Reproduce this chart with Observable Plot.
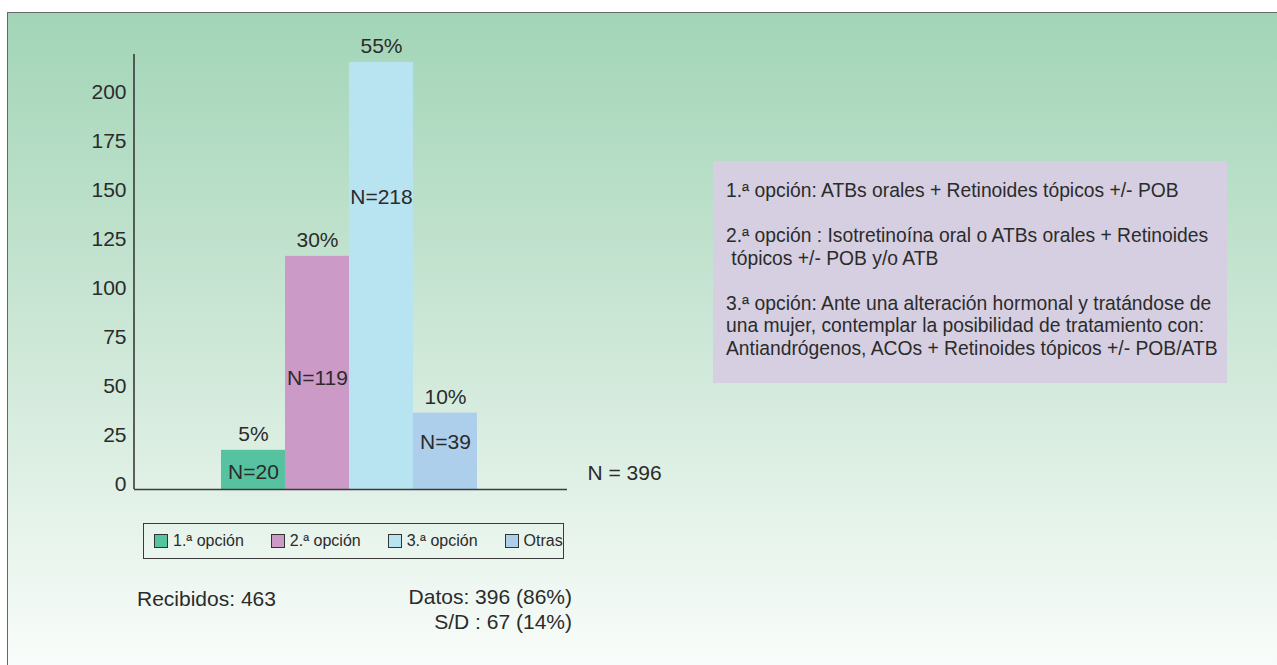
<!DOCTYPE html>
<html>
<head>
<meta charset="utf-8">
<script src="https://cdn.jsdelivr.net/npm/d3@7"></script>
<script src="https://cdn.jsdelivr.net/npm/@observablehq/plot@0.6"></script>
<style>
  html, body { margin: 0; padding: 0; background: #ffffff; width: 1277px; height: 665px; overflow: hidden; }
  body { position: relative; font-family: "Liberation Sans", Arial, Helvetica, sans-serif; color: #2b2b2b; }
  #panel {
    position: absolute; left: 7px; top: 12px; width: 1280px; height: 660px;
    border-left: 1.5px solid #666; border-top: 1.5px solid #666;
    background: linear-gradient(to bottom, #a2d5b7 0%, #cfe8d8 52%, #fafdfb 100%);
  }
  #chart { position: absolute; left: 0; top: 0; }
  #legend {
    position: absolute; left: 143px; top: 523px; width: 409px; height: 34px;
    border: 1.5px solid #3a3a3a; display: flex; align-items: center;
    padding-left: 10px; box-sizing: content-box; font-size: 16px;
  }
  #legend .item { display: flex; align-items: center; margin-right: 27px; }
  #legend .sw { width: 12px; height: 12px; border: 1px solid #333; margin-right: 5px; }
  #infobox {
    position: absolute; left: 713px; top: 161px; width: 514px; height: 222px;
    background: #d6cfe1; box-sizing: border-box; padding: 19px 0 0 13px;
    font-size: 19.3px; line-height: 22.5px; white-space: pre;
  }
  #infobox p { margin: 0 0 22.5px 0; }
  .foot { position: absolute; font-size: 21px; line-height: 25px; }
</style>
</head>
<body>
<div id="panel"></div>
<div id="chart"></div>
<div id="legend"></div>
<div id="infobox"></div>
<div class="foot" id="recib" style="left:137px; top:586px;"></div>
<div class="foot" id="datos" style="right:705px; top:584px; text-align:right;"></div>
<script>
// ---- data ----
const categories = ["1.ª opción", "2.ª opción", "3.ª opción", "Otras"];
const counts = [20, 119, 218, 39];
const percents = ["5%", "30%", "55%", "10%"];
const countLabelAt = [9, 57, 149, 24];   // where the N= labels sit, in data units
const colors = ["#57c2a0", "#cc9ac7", "#b8e3f1", "#aecfec"];
const yTicks = [0, 25, 50, 75, 100, 125, 150, 175, 200];
const totalLabel = "N = 396";
const infoParagraphs = [
  "1.ª opción: ATBs orales + Retinoides tópicos +/- POB",
  "2.ª opción : Isotretinoína oral o ATBs orales + Retinoides\n tópicos +/- POB y/o ATB",
  "3.ª opción: Ante una alteración hormonal y tratándose de\nuna mujer, contemplar la posibilidad de tratamiento con:\nAntiandrógenos, ACOs + Retinoides tópicos +/- POB/ATB"
];
const receivedText = "Recibidos: 463";
const datosLines = ["Datos: 396 (86%)", "S/D : 67 (14%)"];

const rows = categories.map((c, i) => ({cat: c, n: counts[i], pct: percents[i], at: countLabelAt[i]}));

const svg = Plot.plot({
  width: 700,
  height: 520,
  marginLeft: 134,
  marginRight: 133,
  marginTop: 54,
  marginBottom: 31,
  style: {background: "transparent", fontFamily: "'Liberation Sans', Arial, sans-serif", fontSize: "21px", color: "#2b2b2b", overflow: "visible"},
  x: {type: "band", domain: categories, paddingInner: 0, paddingOuter: 1.357, align: 0.49, axis: null},
  y: {domain: [0, 222]},
  color: {domain: categories, range: colors},
  marks: [
    Plot.barY(rows, {x: "cat", y: "n", fill: "cat", inset: 0}),
    Plot.ruleY([0], {stroke: "#3a3a3a", strokeWidth: 1.6}),
    Plot.axisY(yTicks, {tickSize: 0, tickPadding: 8, dy: -5, fontSize: 21, label: null, tickFormat: d => String(d)}),
    Plot.text(rows, {x: "cat", y: "n", text: "pct", dy: -16, fontSize: 21}),
    Plot.text(rows, {x: "cat", y: "at", text: d => "N=" + d.n, fontSize: 21}),
    Plot.text([totalLabel], {frameAnchor: "bottom-right", text: d => d, dx: 20, dy: -10, textAnchor: "start", fontSize: 21})
  ]
});

// y axis line drawn from the plot's own scales
const xs = svg.scale("x"), ys = svg.scale("y");
d3.select(svg).append("line")
  .attr("x1", xs.range[0]).attr("x2", xs.range[0])
  .attr("y1", ys.apply(ys.domain[1])).attr("y2", ys.apply(0))
  .attr("stroke", "#3a3a3a").attr("stroke-width", 1.6);

document.getElementById("chart").appendChild(svg);

// legend
const lg = document.getElementById("legend");
categories.forEach((c, i) => {
  const it = document.createElement("div");
  it.className = "item";
  const sw = document.createElement("div");
  sw.className = "sw";
  sw.style.background = colors[i];
  const tx = document.createElement("span");
  tx.textContent = c;
  it.appendChild(sw); it.appendChild(tx);
  if (i === categories.length - 1) it.style.marginRight = "0";
  lg.appendChild(it);
});

// info box
const ib = document.getElementById("infobox");
infoParagraphs.forEach(p => {
  const el = document.createElement("p");
  el.textContent = p;
  ib.appendChild(el);
});

document.getElementById("recib").textContent = receivedText;
document.getElementById("datos").innerHTML = datosLines.join("<br>");
</script>
</body>
</html>
